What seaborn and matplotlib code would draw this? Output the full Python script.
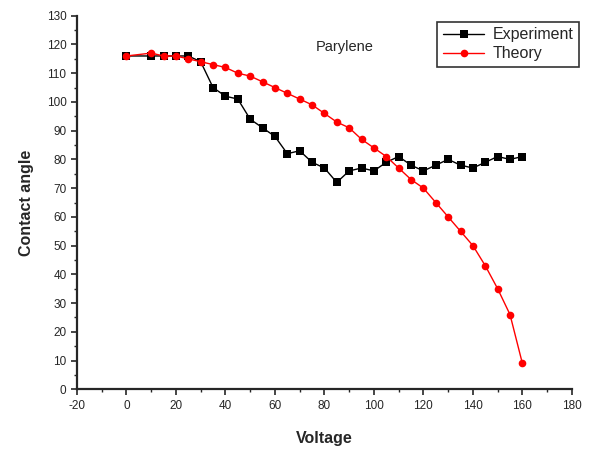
import numpy as np
import pandas as pd
import matplotlib
matplotlib.use("Agg")
import matplotlib.pyplot as plt
from matplotlib.ticker import MultipleLocator
import seaborn as sns

# voltage steps (V)
voltage = [0, 10, 15, 20, 25, 30, 35, 40, 45, 50, 55, 60, 65, 70, 75, 80,
           85, 90, 95, 100, 105, 110, 115, 120, 125, 130, 135, 140, 145,
           150, 155, 160]

# measured contact angle (deg)
experiment = [116, 116, 116, 116, 116, 114, 105, 102, 101, 94, 91, 88, 82,
              83, 79, 77, 72, 76, 77, 76, 79, 81, 78, 76, 78, 80, 78, 77,
              79, 81, 80, 81]

# Lippmann-Young prediction (deg)
theory = [116, 117, 116, 116, 115, 114, 113, 112, 110, 109, 107, 105, 103,
          101, 99, 96, 93, 91, 87, 84, 81, 77, 73, 70, 65, 60, 55, 50, 43,
          35, 26, 9]

df = pd.concat([
    pd.DataFrame({"Voltage": voltage, "Contact angle": experiment, "series": "Experiment"}),
    pd.DataFrame({"Voltage": voltage, "Contact angle": theory, "series": "Theory"}),
])

sns.set_style("ticks")
plt.rcParams["font.family"] = ["Liberation Sans", "DejaVu Sans"]
plt.rcParams["axes.unicode_minus"] = False

fig = plt.figure(figsize=(5.92, 4.5), dpi=100)
ax = fig.add_axes([0.130, 0.135, 0.836, 0.83])

sns.lineplot(
    data=df, x="Voltage", y="Contact angle",
    hue="series", style="series",
    palette={"Experiment": "black", "Theory": "red"},
    markers={"Experiment": "s", "Theory": "o"},
    dashes=False, markersize=5.5, markeredgewidth=0,
    linewidth=1, ax=ax,
)

ax.set_xlim(-20, 180)
ax.set_ylim(0, 130)
ax.xaxis.set_major_locator(MultipleLocator(20))
ax.xaxis.set_minor_locator(MultipleLocator(10))
ax.yaxis.set_major_locator(MultipleLocator(10))
ax.yaxis.set_minor_locator(MultipleLocator(5))
ax.tick_params(which="major", direction="out", length=4, width=1.2, labelsize=8.5)
ax.tick_params(which="minor", direction="out", length=2.5, width=1)
for s in ["left", "bottom"]:
    ax.spines[s].set_linewidth(1.6)
sns.despine(ax=ax)

ax.set_xlabel("Voltage", fontsize=11.5, fontweight="bold", labelpad=14)
ax.set_ylabel("Contact angle", fontsize=11.5, fontweight="bold", labelpad=9)

ax.text(88, 119, "Parylene", fontsize=10.5, ha="center", va="center")

leg = ax.legend(loc="upper right", bbox_to_anchor=(1.03, 1.005), fontsize=11.5,
                frameon=True, fancybox=False, edgecolor="black",
                handlelength=2.6, borderpad=0.35, labelspacing=0.25,
                handletextpad=0.5)
leg.get_frame().set_linewidth(1.2)

fig.savefig("out.png", dpi=100)
